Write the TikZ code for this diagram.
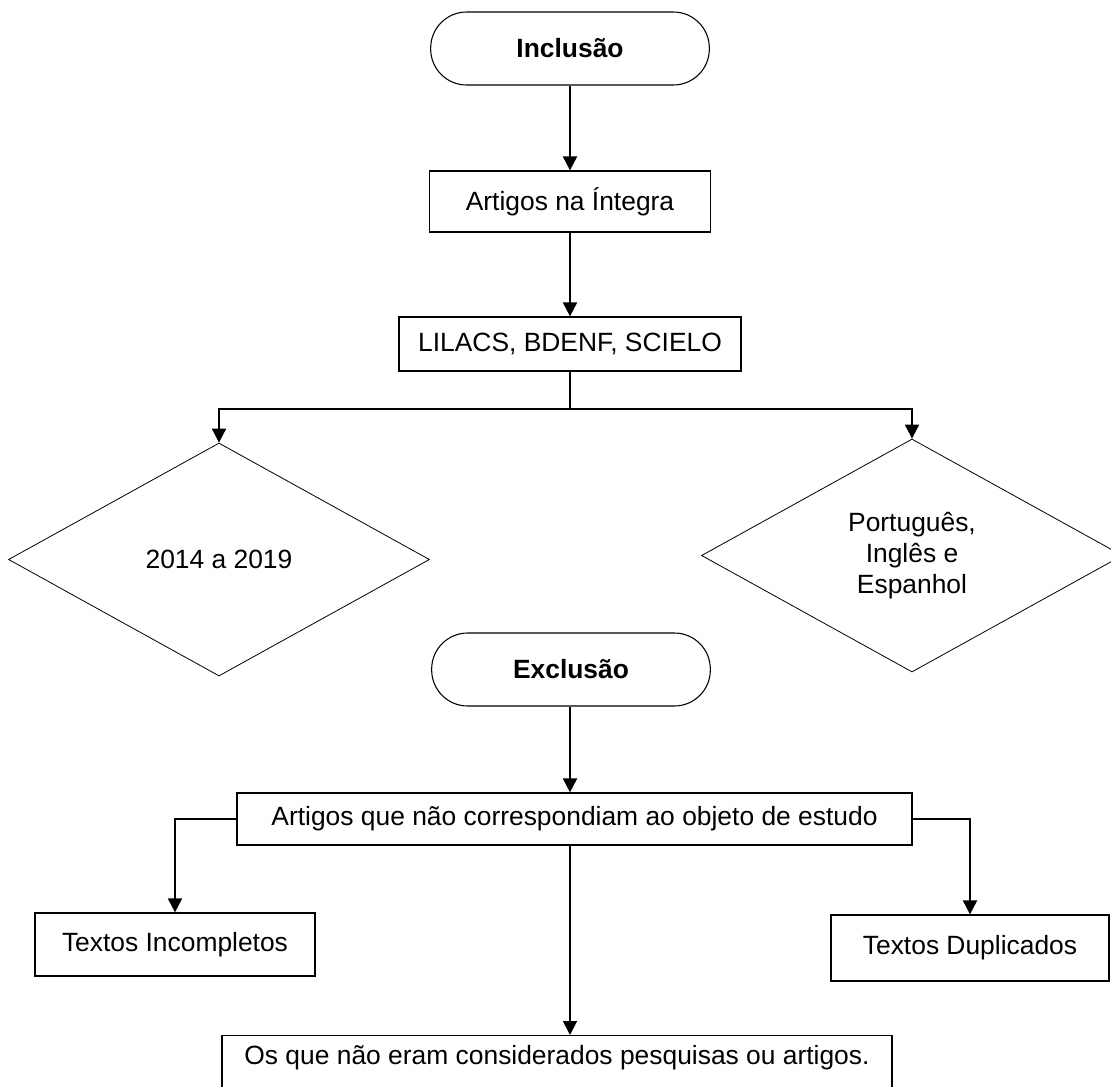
\documentclass[tikz,border=0pt]{standalone}
\usepackage{fontspec}
\setmainfont{Liberation Sans}
\usetikzlibrary{shapes.geometric,arrows.meta}
\begin{document}
\begin{tikzpicture}[x=0.75pt,y=-0.75pt,
  every node/.style={font=\fontsize{19.8}{23.4}\selectfont, inner sep=0pt, align=center},
  terminal/.style={draw, line width=0.8pt, rounded corners=27pt, minimum width=209pt, minimum height=54.75pt, font=\fontsize{19.8}{23.4}\selectfont\bfseries},
  procbox/.style={draw, line width=0.9pt},
  decision/.style={draw, diamond, line width=0.6pt, aspect=1.81, minimum width=315.75pt, minimum height=174.75pt},
  arr/.style={line width=1.4pt, -{Triangle[length=10.5pt,width=10.5pt]}},
  link/.style={line width=1.4pt}]
\clip (0,0) rectangle (1111,1086);
\useasboundingbox (0,0) rectangle (1111,1086);
\fill[white] (0,0) rectangle (1111,1086);

\node[terminal] (inc) at (570,48.5) {Inclusão};
\node[procbox, minimum width=210.75pt, minimum height=45.75pt] (art) at (570,201.5) {Artigos na Íntegra};
\node[procbox, minimum width=256.5pt, minimum height=40.5pt] (lil) at (570,344) {LILACS, BDENF, SCIELO};
\node[decision] (d1) at (219,559.5) {2014 a 2019};
\node[decision] (d2) at (912,555.5) {Português,\\Inglês e\\Espanhol};
\node[terminal] (exc) at (571,669.5) {Exclusão};
\node[procbox, minimum width=506.25pt, minimum height=39pt] (obj) at (574.5,819) {Artigos que não correspondiam ao objeto de estudo};
\node[procbox, minimum width=210pt, minimum height=47.25pt] (ti) at (175,944.5) {Textos Incompletos};
\node[procbox, minimum width=208.5pt, minimum height=49.5pt] (td) at (970,948) {Textos Duplicados};
\node[procbox, minimum width=502.5pt, minimum height=60pt, anchor=north] (os) at (557,1035) {};
\node (ostext) at (557,1058) {Os que não eram considerados pesquisas ou artigos.};

\coordinate (split) at (570,409);
\draw[arr] (inc.south) -- (inc.south |- art.north);
\draw[arr] (art.south) -- (art.south |- lil.north);
\draw[link] (lil.south) -- (split);
\draw[arr] (split) -| (d1.north);
\draw[arr] (split) -| (d2.north);
\draw[arr] (exc.south -| inc.south) -- (inc.south |- obj.north);
\draw[arr] (obj.west) -| (ti.north);
\draw[arr] (obj.east) -| (td.north);
\draw[arr] (obj.south -| inc.south) -- (os.north -| inc.south);
\end{tikzpicture}
\end{document}
